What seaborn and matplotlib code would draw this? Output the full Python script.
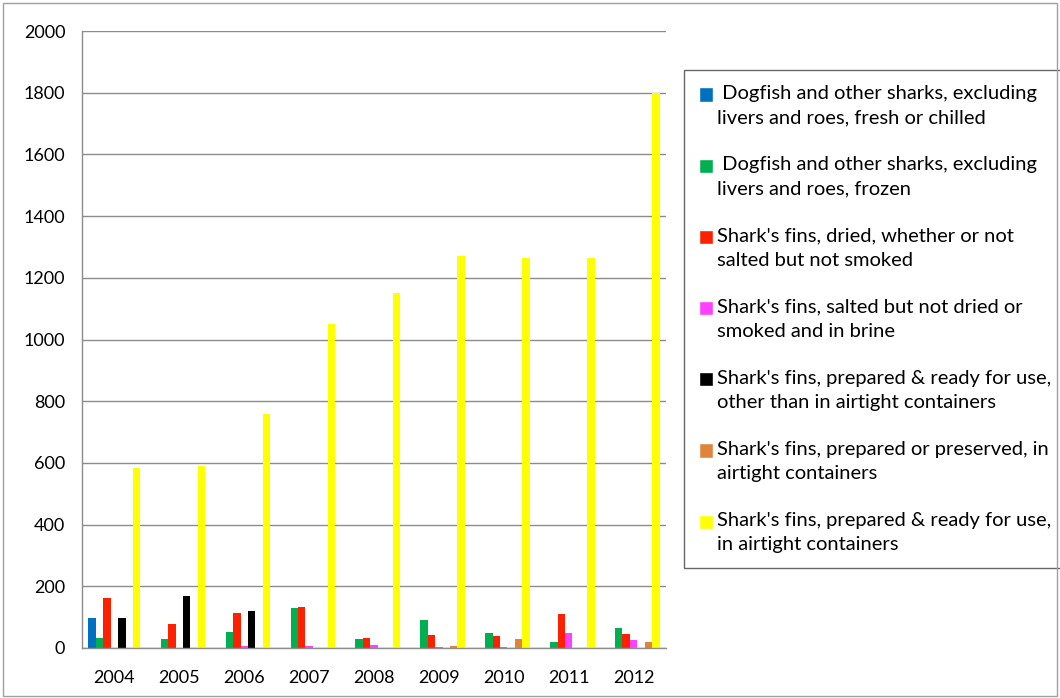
#Importing libraries
import pandas as pd
import matplotlib
matplotlib.use('Agg')
import matplotlib.pyplot as plt
from matplotlib.patches import Rectangle, Patch
from matplotlib.legend_handler import HandlerPatch
import seaborn as sns

#Chart data
years = ['2004', '2005', '2006', '2007', '2008', '2009', '2010', '2011', '2012']
fresh_chilled = [98, 0, 0, 0, 0, 0, 0, 0, 0]
frozen = [34, 30, 52, 129, 28, 92, 48, 18, 64]
fins_dried = [162, 79, 112, 132, 31, 41, 38, 109, 44]
fins_salted = [0, 0, 5, 5, 11, 4, 4, 48, 25]
fins_ready_other = [98, 167, 119, 0, 0, 0, 0, 0, 0]
fins_preserved = [0, 0, 0, 0, 0, 8, 28, 0, 18]
fins_ready_airtight = [585, 590, 757, 1050, 1150, 1270, 1265, 1265, 1800]

series_names = [
    ' Dogfish and other sharks, excluding\nlivers and roes, fresh or chilled',
    ' Dogfish and other sharks, excluding\nlivers and roes, frozen',
    "Shark's fins, dried, whether or not\nsalted but not smoked",
    "Shark's fins, salted but not dried or\nsmoked and in brine",
    "Shark's fins, prepared & ready for use,\nother than in airtight containers",
    "Shark's fins, prepared or preserved, in\nairtight containers",
    "Shark's fins, prepared & ready for use,\nin airtight containers",
]
series_values = [fresh_chilled, frozen, fins_dried, fins_salted,
                 fins_ready_other, fins_preserved, fins_ready_airtight]
colors = ['#0070C0', '#00B050', '#FF2000', '#FF40FF', '#000000', '#E0843C', '#FFFF00']

#Long table for seaborn
rows = []
for name, vals in zip(series_names, series_values):
    for y, v in zip(years, vals):
        rows.append({'year': y, 'series': name, 'value': v})
df = pd.DataFrame(rows)

sns.set_style('white')
plt.rcParams['font.family'] = ['Lato', 'DejaVu Sans']
plt.rcParams['text.color'] = 'black'

fig = plt.figure(figsize=(10.6, 6.98), dpi=100)
ax = fig.add_axes([82 / 1060, 50 / 698, 584 / 1060, 617 / 698])

sns.barplot(data=df, x='year', y='value', hue='series', hue_order=series_names,
            palette=colors, width=0.8, saturation=1, ax=ax, errorbar=None,
            linewidth=0, legend=False)

ax.set_ylim(0, 2000)
ax.set_xlim(-0.5, len(years) - 0.5)
ax.set_yticks(range(0, 2001, 200))
ax.yaxis.grid(True, color='#8c8c8c', linewidth=1)
ax.set_axisbelow(True)
ax.set_xlabel('')
ax.set_ylabel('')

for side in ['top', 'right']:
    ax.spines[side].set_visible(False)
for side in ['left', 'bottom']:
    ax.spines[side].set_color('#8c8c8c')
    ax.spines[side].set_linewidth(1)

#Tick marks between the year groups
ax.set_xticks([i - 0.5 for i in range(len(years) + 1)], minor=True)
ax.tick_params(axis='x', which='major', length=0, labelsize=13, pad=16, labelcolor='black')
ax.tick_params(axis='x', which='minor', length=6, color='#8c8c8c', direction='out')
ax.tick_params(axis='y', which='major', length=7, color='#8c8c8c', direction='out',
               labelsize=13, pad=5, labelcolor='black')

#Legend square sits next to the first line of each label
def top_square(legend, orig_handle, xdescent, ydescent, width, height, fontsize):
    return Rectangle((-xdescent, -ydescent + 0.55 * fontsize), width, height)

legend_elements = [Patch(facecolor=c, label=n) for n, c in zip(series_names, colors)]
leg = ax.legend(handles=legend_elements, loc='upper left',
                bbox_to_anchor=((684 - 82) / 584, (648 - 70) / 617),
                handler_map={Patch: HandlerPatch(patch_func=top_square)},
                fontsize=14.5, frameon=True, fancybox=False, edgecolor='#404040',
                labelspacing=1.5, handlelength=0.7, handleheight=0.7,
                handletextpad=0.2, borderpad=0.75, borderaxespad=0)
leg.get_frame().set_linewidth(1)
for t in leg.get_texts():
    t.set_linespacing(1.5)

#Outer chart border
fig.patches.append(Rectangle((3 / 1060, 2 / 698), 1054 / 1060, 693 / 698,
                             transform=fig.transFigure, fill=False,
                             edgecolor='#a0a0a0', linewidth=1))

plt.savefig('out.png', dpi=100)
